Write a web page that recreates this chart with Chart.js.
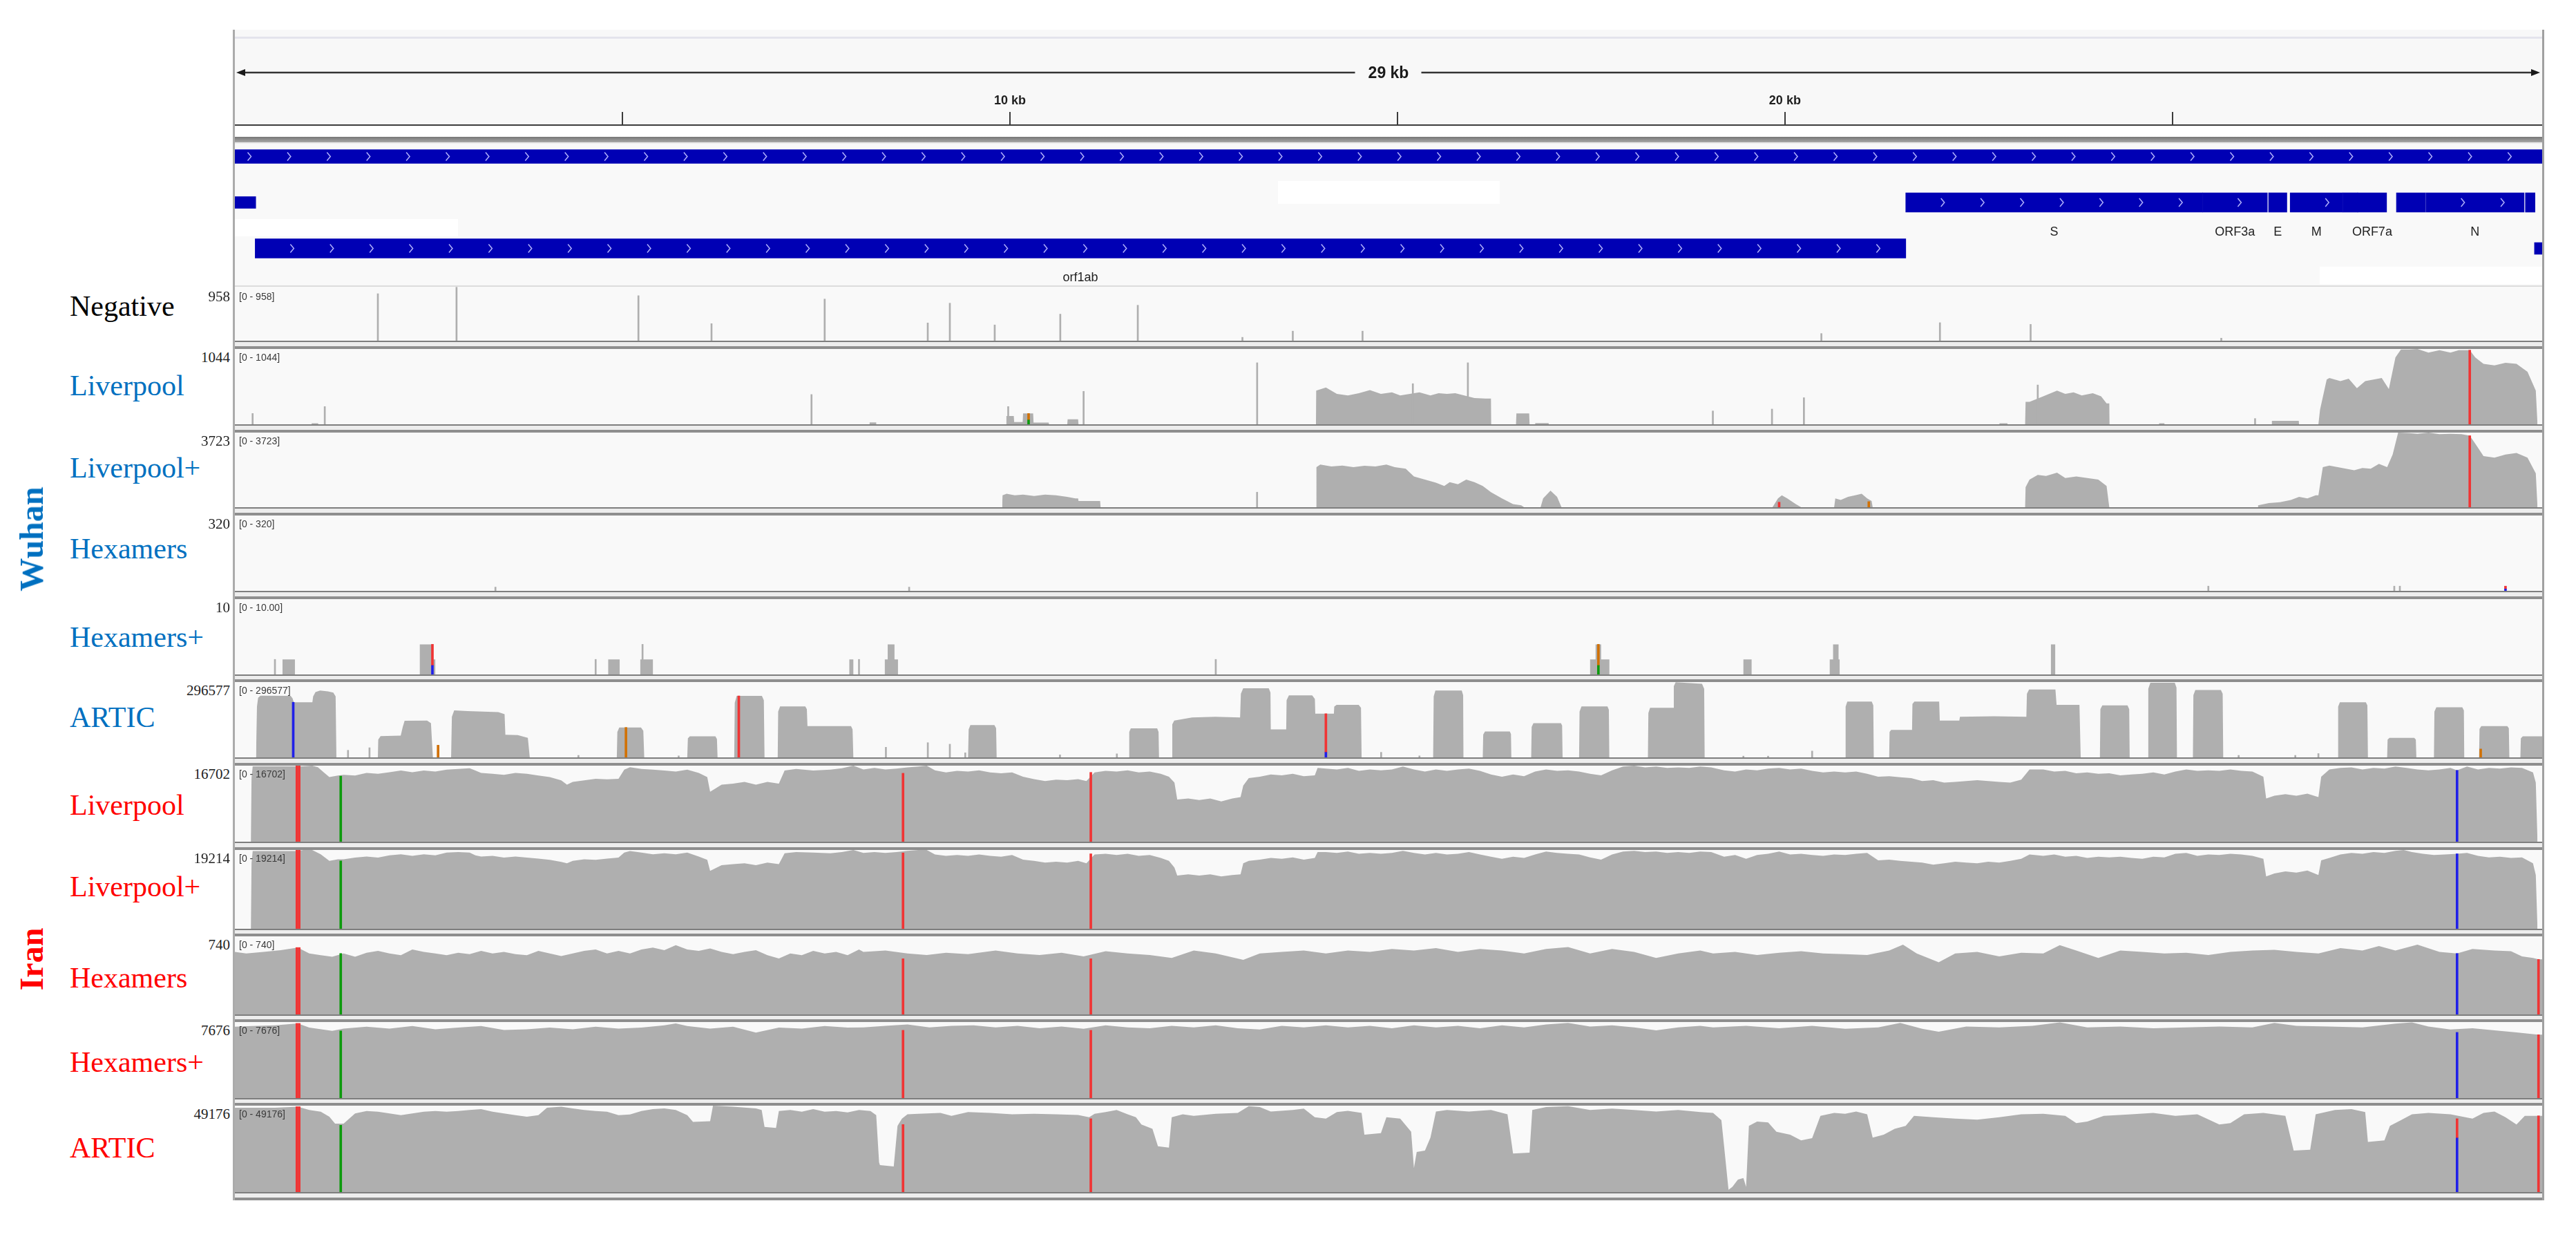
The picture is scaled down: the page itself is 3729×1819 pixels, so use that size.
<!DOCTYPE html>
<html>
<head>
<meta charset="utf-8">
<script src="https://cdn.jsdelivr.net/npm/chart.js@4.4.1/dist/chart.umd.min.js"></script>
<style>
html,body{margin:0;padding:0;background:#ffffff;}
#page{position:relative;width:3729px;height:1819px;overflow:hidden;background:#ffffff;}
#page canvas{position:absolute;}
.box{position:absolute;box-sizing:border-box;}
.txt{position:absolute;white-space:nowrap;}
</style>
</head>
<body>
<div id="page"></div>
<script>
// ---------------- DATA ----------------
const GENOME_END = 29770;            // last visible base of the view
const spanLabel = '29 kb';
const tickPositions = [5000, 10000, 15000, 20000, 25000];
const tickTexts = ['', '10 kb', '', '20 kb', ''];

// gene annotation track
const geneNames  = ['genome', "5'UTR", 'orf1ab', 'S', 'ORF3a', 'E', 'M', 'ORF6', 'ORF7a', 'ORF8', 'N', 'ORF10', "3'UTR"];
const geneLabels = ['', '', 'orf1ab', 'S', 'ORF3a', 'E', 'M', '', 'ORF7a', '', 'N', '', ''];
const geneStarts = [0, 0, 266, 21563, 25393, 26245, 26523, 27202, 27394, 27894, 28274, 29558, 29675];
const geneEnds   = [29903, 265, 21555, 25384, 26220, 26472, 27191, 27387, 27759, 28259, 29533, 29674, 29903];
const geneRows   = [1, 2, 3, 2, 2, 2, 2, 2, 2, 2, 2, 2, 3];
const geneKinds  = ['region', 'utr', 'cds', 'cds', 'cds', 'cds', 'cds', 'cds', 'cds', 'cds', 'cds', 'cds', 'utr'];

// coverage tracks
const trackNames  = ['Negative', 'Liverpool', 'Liverpool+', 'Hexamers', 'Hexamers+', 'ARTIC', 'Liverpool', 'Liverpool+', 'Hexamers', 'Hexamers+', 'ARTIC'];
const trackGroups = ['none', 'Wuhan', 'Wuhan', 'Wuhan', 'Wuhan', 'Wuhan', 'Iran', 'Iran', 'Iran', 'Iran', 'Iran'];
const trackMax    = [958, 1044, 3723, 320, 10, 296577, 16702, 19214, 740, 7676, 49176];
const trackScaleText = ['958', '1044', '3723', '320', '10', '296577', '16702', '19214', '740', '7676', '49176'];
const trackRangeText = ['[0 - 958]', '[0 - 1044]', '[0 - 3723]', '[0 - 320]', '[0 - 10.00]', '[0 - 296577]', '[0 - 16702]', '[0 - 19214]', '[0 - 740]', '[0 - 7676]', '[0 - 49176]'];
const groupNames = ['Wuhan', 'Iran'];

// Negative
const covNegative = [];
const spkNegative = [[1845,835],[2860,950],[5207,800],[6150,303],[7610,740],[8940,315],[9225,667],[9804,280],[10650,472],[11650,630],[13000,60],[13650,170],[14550,170],[20470,127],[22000,320],[23170,290],[25630,45]];
const snpNegative = [];

// Wuhan Liverpool
const covWuhanLiverpool = [[990,0],[990,15],[1075,15],[1075,0],[8190,0],[8190,26],[8275,26],[8275,0],
 [9950,0],[9955,115],[10050,115],[10055,30],[10165,30],[10170,150],[10300,150],[10305,25],[10500,25],[10505,0],
 [10740,0],[10745,70],[10880,70],[10885,0],
 [13949,0],[13952,466],[14077,510],[14219,422],[14361,400],[14503,431],[14645,475],[14787,422],[14929,444],[15036,400],[15284,444],[15426,400],[15532,431],[15639,422],[15746,431],[15994,365],[16136,356],[16207,356],[16210,0],
 [16530,0],[16535,150],[16700,150],[16705,0],[16775,0],[16778,17],[16950,17],[16953,0],
 [22765,0],[22768,15],[22870,15],[22873,0],
 [23099,0],[23105,312],[23156,312],[23333,387],[23511,466],[23617,422],[23724,444],[23830,400],[23972,431],[24079,387],[24150,290],[24185,290],[24188,0],
 [24825,0],[24828,15],[24895,15],[24898,0],[26280,0],[26283,48],[26630,48],[26633,0],
 [26883,0],[26904,200],[26990,620],[27025,642],[27167,598],[27274,633],[27380,501],[27487,598],[27593,620],[27700,642],[27792,488],[27877,927],[27948,1037],[28055,1037],[28161,1044],[28303,993],[28445,1028],[28587,993],[28694,1028],[28836,1028],[28907,927],[29013,839],[29155,817],[29297,853],[29439,839],[29581,729],[29688,466],[29710,0]];
const spkWuhanLiverpool = [[229,150],[1160,246],[7440,413],[9978,246],[10951,457],[13190,853],[15199,563],[15909,853],[19070,185],[19833,211],[20245,369],[23262,545],[26066,80]];
const snpWuhanLiverpool = [[28836,0,1028,'T'],[10241,60,150,'G'],[10241,0,60,'A']];

// Wuhan Liverpool+
const covWuhanLiverpoolPlus = [[9900,0],[9905,594],[9957,672],[10063,594],[10170,626],[10312,563],[10454,626],[10596,594],[10738,516],[10845,438],[10880,438],[10885,313],[11164,313],[11170,0],
 [13950,0],[13955,2002],[14005,2127],[14148,2034],[14290,2080],[14432,2002],[14574,2065],[14716,2034],[14858,2127],[14964,2002],[15107,1924],[15213,1533],[15355,1377],[15497,1221],[15604,1064],[15675,1252],[15781,1142],[15888,1377],[15994,1252],[16101,1064],[16207,751],[16349,438],[16492,156],[16598,94],[16634,0],
 [16847,0],[16880,438],[16975,829],[17060,516],[17117,0],
 [19840,0],[19910,438],[19960,594],[20030,438],[20140,156],[20209,0],
 [20635,0],[20650,438],[20720,360],[20813,516],[20905,594],[20990,672],[21061,438],[21118,313],[21132,0],
 [23099,0],[23105,1000],[23156,1377],[23262,1611],[23369,1564],[23511,1721],[23617,1455],[23759,1533],[23901,1455],[24043,1377],[24150,1064],[24185,0],
 [26102,0],[26105,94],[26244,203],[26386,250],[26528,360],[26634,516],[26741,438],[26848,594],[26883,594],[26940,2002],[27025,2080],[27132,2002],[27238,1924],[27345,1846],[27451,1955],[27558,1924],[27664,2159],[27770,2002],[27841,2628],[27912,3723],[28055,3700],[28161,3660],[28303,3723],[28445,3645],[28587,3660],[28729,3645],[28836,3567],[28907,3175],[29013,2550],[29155,2472],[29297,2628],[29439,2706],[29581,2472],[29688,1690],[29710,0]];
const spkWuhanLiverpoolPlus = [[13189,750]];
const snpWuhanLiverpoolPlus = [[28836,0,3567,'T'],[19925,0,250,'T'],[21082,0,280,'G']];

// Wuhan Hexamers
const covWuhanHexamers = [];
const spkWuhanHexamers = [[3362,16],[8700,16],[25463,20],[27862,20],[27934,20]];
const snpWuhanHexamers = [[29297,8,20,'T'],[29297,0,8,'C']];

// Wuhan Hexamers+
const covWuhanHexamersPlus = [[613,0],[613,2],[775,2],[775,0],[2386,0],[2386,4],[2560,4],[2560,2],[2586,2],[2586,0],
 [4817,0],[4817,2],[4965,2],[4965,0],[5231,0],[5231,2],[5394,2],[5394,0],[7928,0],[7928,2],[7980,2],[7980,0],
 [8386,0],[8386,2],[8423,2],[8423,4],[8511,4],[8511,2],[8556,2],[8556,0],
 [17486,0],[17486,2],[17557,2],[17557,4],[17628,4],[17628,2],[17735,2],[17735,0],
 [19464,0],[19464,2],[19570,2],[19570,0],[20578,0],[20578,2],[20621,2],[20621,4],[20692,4],[20692,2],[20706,2],[20706,0],
 [23432,0],[23432,4],[23489,4],[23489,0]];
const spkWuhanHexamersPlus = [[517,2],[4655,2],[5260,4],[8053,2],[12656,2]];
const snpWuhanHexamersPlus = [[2549,1.2,4,'T'],[2549,0,1.2,'C'],[17593,1.2,4,'G'],[17593,0,1.2,'A']];

// Wuhan ARTIC
const covWuhanARTIC = [[273,0],[285,200000],[300,235000],[330,243000],[720,242000],[745,232000],[760,217000],[1000,217000],[1010,240000],[1040,257000],[1100,263000],[1200,260000],[1270,255000],[1300,240000],[1310,0],
 [1845,0],[1850,70000],[1880,84000],[2140,86000],[2166,120000],[2190,144000],[2480,145000],[2530,135000],[2555,0],
 [2790,0],[2800,160000],[2830,185000],[3000,182000],[3200,180000],[3400,178000],[3480,170000],[3490,89000],[3650,88000],[3780,77000],[3805,0],
 [4928,0],[4935,100000],[4960,118000],[5240,118000],[5270,105000],[5282,0],
 [5837,0],[5845,75000],[5870,83000],[6200,83000],[6220,72000],[6228,0],
 [6443,0],[6450,215000],[6475,242000],[6800,242000],[6825,225000],[6834,0],
 [7004,0],[7010,180000],[7035,201000],[7360,201000],[7380,190000],[7388,123000],[7950,123000],[7970,110000],[7980,0],
 [9460,0],[9468,110000],[9490,127000],[9800,127000],[9822,115000],[9829,0],
 [11534,0],[11540,100000],[11560,114000],[11900,114000],[11918,100000],[11924,0],
 [12088,0],[12095,130000],[12120,145000],[12350,157000],[12650,160000],[12970,157000],[12980,250000],[13010,272000],[13340,272000],[13362,255000],[13366,110000],[13565,110000],[13570,225000],[13600,244000],[13900,244000],[13935,230000],[13940,172000],[14180,172000],[14185,200000],[14215,207000],[14500,207000],[14530,195000],[14538,0],
 [15461,0],[15468,240000],[15490,263000],[15830,263000],[15848,245000],[15852,0],
 [16101,0],[16107,90000],[16130,102000],[16450,102000],[16465,92000],[16470,0],
 [16726,0],[16732,120000],[16755,135000],[17110,135000],[17125,125000],[17131,0],
 [17344,0],[17350,180000],[17375,201000],[17710,201000],[17728,188000],[17734,0],
 [18232,0],[18238,175000],[18260,195000],[18560,195000],[18566,280000],[18590,296000],[18930,290000],[18958,270000],[18964,0],
 [20777,0],[20783,200000],[20805,220000],[21120,220000],[21140,205000],[21146,0],
 [21345,0],[21350,100000],[21370,108000],[21640,108000],[21645,210000],[21670,220000],[21990,220000],[21998,145000],[22250,145000],[22258,160000],[22700,162000],[23115,160000],[23122,250000],[23150,267000],[23490,267000],[23505,207000],[23800,207000],[23816,0],
 [24064,0],[24070,190000],[24095,205000],[24420,205000],[24442,190000],[24448,0],
 [24682,0],[24688,270000],[24715,294000],[25030,294000],[25052,275000],[25058,0],
 [25264,0],[25270,245000],[25295,265000],[25625,265000],[25648,250000],[25655,0],
 [27132,0],[27138,200000],[27160,217000],[27495,217000],[27515,205000],[27522,0],
 [27770,0],[27776,70000],[27800,77000],[28120,77000],[28140,70000],[28147,0],
 [28374,0],[28380,180000],[28405,197000],[28740,197000],[28760,185000],[28765,0],
 [28956,0],[28962,112000],[28985,123000],[29320,123000],[29340,115000],[29347,0],
 [29489,0],[29495,75000],[29520,83000],[29770,83000]];
const spkWuhanARTIC = [[1460,28000],[1737,38000],[4433,8000],[5726,6000],[8400,40000],[8941,58000],[9225,52000],[9424,18000],[10646,10000],[11380,14000],[14790,20000],[15284,6000],[19464,5000],[19783,5000],[20351,25000],[25854,8000],[26585,8000],[26883,15000]];
const snpWuhanARTIC = [[753,0,217000,'C'],[2622,0,48000,'G'],[5046,0,118000,'G'],[6502,0,242000,'T'],[14077,20000,172000,'T'],[14077,0,20000,'C'],[28977,0,33000,'G']];

// Iran Liverpool
const covIranLiverpool = [[206,0],[215,14000],[230,16560],[871,16560],[997,16702],[1071,16344],[1145,15269],[1219,14193],[1330,14552],[1403,14695],[1551,14552],[1699,15125],[1847,14910],[1995,15269],[2142,15627],[2290,15269],[2438,15627],[2586,15412],[2733,15842],[2881,15985],[3029,16129],[3103,15627],[3177,15125],[3325,14910],[3472,14695],[3620,15125],[3768,14910],[3916,14552],[4063,14193],[4211,13476],[4285,12545],[4359,13118],[4507,13476],[4655,13835],[4802,13691],[4950,13835],[5024,15842],[5098,16344],[5246,15985],[5393,15842],[5541,15627],[5689,15412],[5837,15842],[5985,15125],[6095,14193],[6132,10967],[6280,12545],[6428,12759],[6576,13118],[6723,12545],[6871,13118],[7019,12759],[7093,15627],[7241,15985],[7462,15627],[7684,15842],[7832,16129],[7980,16702],
 [8110,15870],[8252,16190],[8394,15870],[8536,16062],[8678,16318],[8820,16510],[8927,16702],[9033,15678],[9175,15230],[9318,15550],[9460,15422],[9602,15678],[9744,15230],[9886,15038],[10028,15230],[10170,14270],[10312,13758],[10454,13310],[10596,13630],[10738,13502],[10880,13758],[10987,13310],[11093,15230],[11235,15550],[11377,15422],[11519,15678],[11662,15230],[11804,15422],[11946,14910],[12052,14270],[12123,12990],[12159,9279],[12301,9471],[12443,9151],[12585,9471],[12727,8831],[12869,9471],[12976,9790],[13011,12350],[13082,13950],[13224,14270],[13366,14782],[13508,14590],[13650,14910],[13792,14398],[13934,14590],[13970,16190],[14077,16062],[14219,15870],[14361,16190],[14503,15550],[14645,15870],[14787,15678],[14929,15870],[15071,16510],[15213,15870],[15355,15422],[15497,15870],[15639,15550],[15781,15870],[15923,16062],[16065,15550],[16207,14782],[16349,14270],[16492,14782],[16634,14398],[16776,15422],[16918,15870],[17060,15550],[17202,15678],[17344,15422],[17486,14910],[17628,14590],[17770,15678],[17912,16510],[18054,16702],[18196,16318],[18338,16510],[18480,16190],[18622,16318],[18765,16190],[18907,16510],[19049,16318],
 [19215,15678],[19357,15422],[19499,15870],[19641,15678],[19783,16062],[19925,16190],[20067,15870],[20209,16062],[20351,15550],[20493,15230],[20635,15422],[20777,15230],[20919,15422],[21061,14910],[21203,14270],[21345,14398],[21487,14142],[21629,13950],[21771,13310],[21913,13502],[22055,12990],[22197,13118],[22339,13310],[22481,13502],[22623,13310],[22765,13118],[22907,12990],[23049,13630],[23156,15870],[23333,15870],[23475,15422],[23617,15550],[23759,15038],[23901,15230],[24043,14910],[24185,15038],[24327,14590],[24469,14782],[24611,14910],[24753,15230],[24895,14782],[25037,15422],[25179,15870],[25321,15550],[25463,15678],[25605,15550],[25747,15870],[25889,15550],[26031,15422],[26173,14270],[26209,9471],[26315,10111],[26457,10431],[26599,10111],[26741,10559],[26883,9790],[26919,14270],[27025,15870],[27167,16190],[27309,16318],[27451,15870],[27593,16190],[27735,16062],[27877,16510],[28019,16190],[28161,15870],[28303,15678],[28445,15870],[28587,16190],[28672,15678],[28800,16510],[28942,15870],[29084,16190],[29226,16062],[29368,16318],[29510,16190],[29652,15230],[29688,12990],[29710,0]];
const spkIranLiverpool = [];
const snpIranLiverpool = [[800,0,16702,'T'],[830,0,16702,'T'],[1366,0,14410,'A'],[8621,0,15038,'T'],[11044,0,15230,'T'],[28672,0,15678,'C']];

// Iran Liverpool+
const covIranLiverpoolPlus = [[206,0],[215,16000],[230,18972],[800,18972],[886,19214],[997,19214],[1108,18165],[1219,16550],[1330,16954],[1403,16954],[1551,17357],[1699,17600],[1847,17357],[1995,17923],[2142,18165],[2290,17761],[2438,18165],[2586,17923],[2733,18568],[2881,18729],[3029,18568],[3103,17923],[3177,17600],[3325,17761],[3472,17357],[3620,17600],[3768,17357],[3916,17115],[4063,16792],[4211,16308],[4285,15985],[4359,16550],[4507,16954],[4655,16792],[4802,17115],[4950,17357],[5024,18568],[5098,18972],[5246,18568],[5393,18165],[5541,18407],[5689,18165],[5837,18568],[5985,17600],[6095,16792],[6132,14128],[6280,15500],[6428,15742],[6576,15985],[6723,15500],[6871,16146],[7019,15742],[7093,18407],[7241,18729],[7462,18568],[7684,18407],[7832,18729],[7980,19214],
 [8110,18497],[8252,18712],[8394,18497],[8536,18712],[8678,18999],[8820,19214],[8927,19214],[9033,18139],[9175,17780],[9318,17995],[9460,17780],[9602,18139],[9744,17780],[9886,17565],[10028,17995],[10170,16848],[10312,16561],[10454,16131],[10596,16346],[10738,16131],[10880,16561],[10987,15988],[11093,18139],[11235,18282],[11377,17995],[11519,18282],[11662,17780],[11804,17995],[11946,17278],[12052,16561],[12123,14912],[12159,12977],[12301,13263],[12443,12977],[12585,13263],[12727,12762],[12869,13120],[12976,13263],[13011,15988],[13082,16561],[13224,16848],[13366,17278],[13508,17063],[13650,17422],[13792,16848],[13934,17278],[13970,18712],[14077,18712],[14219,18497],[14361,18855],[14503,18282],[14645,18497],[14787,18282],[14929,18497],[15071,18999],[15213,18497],[15355,18139],[15497,18497],[15639,18139],[15781,18282],[15923,18712],[16065,18139],[16207,17565],[16349,17063],[16492,17565],[16634,17278],[16776,18139],[16918,18855],[17060,18497],[17202,18282],[17344,18139],[17486,17422],[17628,16848],[17770,18139],[17912,18855],[18054,18999],[18196,18712],[18338,18855],[18480,18497],[18622,18712],[18765,18497],[18907,18855],[19049,18712],
 [19215,17565],[19357,17995],[19499,17063],[19641,17995],[19783,18282],[19925,18855],[20067,18139],[20209,18282],[20351,17995],[20493,17780],[20635,18139],[20777,17995],[20919,18282],[21061,18497],[21203,16705],[21345,16848],[21487,16561],[21629,16346],[21771,16131],[21913,15629],[22055,15988],[22197,16346],[22339,16131],[22481,15988],[22623,16346],[22765,16131],[22907,16561],[23049,17063],[23156,18139],[23333,17780],[23475,18139],[23617,17565],[23759,17780],[23901,17278],[24043,17565],[24185,17422],[24327,17565],[24469,17278],[24611,17063],[24753,17565],[24895,17422],[25037,18282],[25179,18497],[25321,17780],[25463,18139],[25605,17995],[25747,18282],[25889,18139],[26031,17780],[26173,17063],[26209,12762],[26315,13479],[26457,13980],[26599,13693],[26741,14195],[26883,13120],[26919,16705],[27025,17278],[27167,18139],[27309,18497],[27451,18282],[27593,18712],[27735,18497],[27877,18999],[27983,19214],[28090,18712],[28232,18282],[28374,17995],[28516,18139],[28672,18282],[28800,18497],[28942,17780],[29084,17422],[29226,17565],[29368,17278],[29510,17422],[29652,15988],[29688,13120],[29710,0]];
const spkIranLiverpoolPlus = [];
const snpIranLiverpoolPlus = [[800,0,19214,'T'],[830,0,19214,'T'],[1366,0,16550,'A'],[8621,0,18497,'T'],[11044,0,18282,'T'],[28672,0,18282,'C']];

// Iran Hexamers
const covIranHexamers = [[0,593],[147,578],[369,593],[591,609],[812,634],[960,578],[1108,562],[1256,546],[1403,578],[1551,546],[1699,584],[1847,603],[1995,578],[2142,562],[2290,615],[2438,593],[2586,578],[2733,562],[2881,584],[3029,571],[3177,603],[3325,578],[3472,593],[3620,571],[3768,562],[3916,603],[4063,578],[4211,553],[4359,578],[4507,603],[4655,615],[4802,578],[4950,603],[5098,578],[5246,615],[5393,634],[5541,609],[5689,656],[5837,615],[5985,603],[6132,625],[6280,593],[6428,571],[6576,593],[6723,609],[6871,562],[7019,531],[7167,578],[7315,562],[7462,603],[7610,578],[7758,593],[7906,562],[8053,615],
 [8110,592],[8394,606],[8678,578],[8927,564],[9175,584],[9460,572],[9815,606],[10099,578],[10383,564],[10667,584],[10951,550],[11235,600],[11519,578],[11804,564],[12088,536],[12372,606],[12656,578],[13011,517],[13224,578],[13508,592],[13792,606],[14077,578],[14361,606],[14645,592],[14929,620],[15213,606],[15497,628],[15781,592],[16065,620],[16349,606],[16634,578],[16918,620],[17202,639],[17486,578],[17770,620],[18054,592],[18338,536],[18622,578],[18907,606],
 [19073,578],[19357,592],[19641,564],[19925,584],[20209,600],[20493,578],[20777,572],[21061,564],[21345,606],[21523,662],[21700,578],[21984,494],[22197,578],[22481,592],[22765,550],[23049,584],[23333,578],[23546,656],[23759,606],[24043,536],[24327,606],[24611,592],[24895,578],[25179,584],[25463,564],[25747,592],[26031,606],[26315,612],[26599,592],[26883,578],[27167,628],[27451,606],[27664,648],[27877,606],[28161,662],[28445,592],[28672,578],[28871,620],[29155,606],[29368,600],[29510,550],[29652,536],[29723,522],[29770,522]];
const spkIranHexamers = [];
const snpIranHexamers = [[800,0,634,'T'],[830,0,634,'T'],[1366,0,578,'A'],[8621,0,528,'T'],[11044,0,528,'T'],[28672,0,578,'C'],[29723,0,522,'T']];

// Iran Hexamers+
const covIranHexamersPlus = [[0,7213],[221,7279],[517,7345],[812,7544],[960,7114],[1256,6783],[1403,7014],[1699,7213],[1995,7014],[2290,7279],[2586,6948],[2881,7114],[3177,7279],[3472,6882],[3768,6948],[4063,7114],[4359,6948],[4655,7213],[4950,7014],[5246,7114],[5541,7345],[5689,7544],[5837,7279],[6132,7014],[6428,7213],[6723,6617],[7019,7114],[7315,7014],[7610,7279],[7906,7114],
 [8110,7140],[8394,7289],[8678,7438],[8962,7140],[9246,7289],[9531,7349],[9815,7140],[10099,7289],[10383,7051],[10667,7230],[10951,6992],[11235,7349],[11519,7140],[11804,7051],[12088,7289],[12372,7140],[12656,7349],[12940,7051],[13224,6932],[13508,7289],[13792,7140],[14077,7349],[14361,7140],[14645,7289],[14929,7051],[15213,7349],[15497,7140],[15781,7289],[16065,7051],[16349,7349],[16634,7140],[16918,7438],[17202,7587],[17486,7230],[17770,7349],[18054,7140],[18338,6843],[18622,7140],[18907,7289],
 [19073,7140],[19499,7289],[19925,7051],[20351,7289],[20777,6992],[21203,7140],[21487,7587],[21771,6992],[21984,6694],[22339,7230],[22765,7140],[23191,7289],[23546,7646],[23901,7140],[24327,7230],[24753,7051],[25179,7140],[25605,7230],[26031,7140],[26315,7587],[26599,7289],[27025,7230],[27451,7140],[27877,7527],[28090,7646],[28303,7230],[28587,6932],[28871,7051],[29155,6843],[29439,6635],[29652,6456],[29723,6397],[29770,6397]];
const spkIranHexamersPlus = [];
const snpIranHexamersPlus = [[800,0,7544,'T'],[830,0,7544,'T'],[1366,0,6783,'A'],[8621,0,6843,'T'],[11044,0,6843,'T'],[28672,0,6635,'C'],[29723,0,6397,'T']];

// Iran ARTIC
const covIranARTIC = [[0,48024],[517,48024],[812,48600],[960,46679],[1108,45719],[1219,42838],[1293,38996],[1403,38996],[1551,44759],[1699,46103],[1847,45719],[1995,44759],[2142,43798],[2290,44759],[2438,45719],[2586,46103],[2733,45719],[2881,46103],[3029,46679],[3177,47256],[3325,45719],[3472,44759],[3620,43798],[3768,42838],[3916,43798],[4027,48024],[4211,48600],[4359,47640],[4507,46679],[4655,46103],[4802,45719],[4950,43798],[5098,44183],[5246,46103],[5393,47256],[5541,47640],[5689,46679],[5837,43798],[5911,39956],[6132,40341],[6169,49176],[6428,48600],[6723,47640],[6797,46679],[6834,37075],[6982,36498],[7019,46103],[7167,46679],[7315,45719],[7462,47256],[7610,45719],[7758,46103],[7906,45335],[8053,46679],[8201,46103],[8275,43798],[8312,16904],[8323,15347],[8501,14522],[8550,37625],[8607,41751],[8678,44226],[8820,44556],[9104,45051],[9246,43401],[9460,45546],[9744,45051],[10028,44226],[10312,44556],[10596,44226],[10880,43896],[11022,42576],[11093,44556],[11235,45546],[11377,46701],[11519,44226],[11626,42576],[11697,38450],[11839,35975],[11910,26073],[12052,25248],[12088,42576],[12230,44226],[12372,43401],[12656,44556],[12940,45051],[13082,48852],[13224,48356],[13366,45876],[13650,46701],[13792,47526],[13934,42576],[14077,41751],[14219,45546],[14361,46206],[14538,45051],[14574,32674],[14787,33500],[14858,42576],[15036,41751],[15177,34325],[15213,13697],[15249,22773],[15355,23598],[15426,31024],[15497,45876],[15639,46701],[15923,45876],[16207,46701],[16420,44226],[16492,21948],[16705,22443],[16740,46701],[16918,48356],[17202,48852],[17486,46701],[17770,47526],[18054,46701],[18338,45876],[18622,46701],[18907,45546],[19073,45051],[19180,40925],[19215,26073],[19272,1320],[19322,2970],[19393,7096],[19464,7921],[19499,2970],[19535,37625],[19641,40100],[19783,39605],[19890,34325],[20067,32674],[20209,29374],[20351,30694],[20458,43401],[20635,45051],[20777,44556],[20919,45876],[21061,44226],[21132,31024],[21274,32674],[21416,35975],[21558,37625],[21665,43401],[21913,42576],[22197,41751],[22481,41256],[22765,42576],[23049,44226],[23333,44556],[23617,43401],[23759,39275],[23901,40100],[24114,43401],[24469,44226],[24753,45051],[25037,43401],[25321,44226],[25605,38450],[25747,39275],[25925,44226],[26173,45051],[26457,43401],[26564,23598],[26777,24093],[26848,44226],[27096,46701],[27309,47196],[27487,45546],[27522,28549],[27735,29374],[27806,37625],[27948,40925],[28090,44226],[28303,45051],[28587,44226],[28871,41751],[29013,45051],[29155,45876],[29297,42576],[29439,38450],[29546,43401],[29723,43401],[29770,43401]];
const spkIranARTIC = [];
const snpIranARTIC = [[800,0,48600,'T'],[830,0,48600,'T'],[1366,0,38035,'A'],[8621,0,38450,'T'],[11044,0,41751,'T'],[28672,0,31024,'C'],[28672,31024,41751,'T'],[29723,0,43401,'T']];

const covTracks = [covNegative, covWuhanLiverpool, covWuhanLiverpoolPlus, covWuhanHexamers, covWuhanHexamersPlus, covWuhanARTIC, covIranLiverpool, covIranLiverpoolPlus, covIranHexamers, covIranHexamersPlus, covIranARTIC];
const spkTracks = [spkNegative, spkWuhanLiverpool, spkWuhanLiverpoolPlus, spkWuhanHexamers, spkWuhanHexamersPlus, spkWuhanARTIC, spkIranLiverpool, spkIranLiverpoolPlus, spkIranHexamers, spkIranHexamersPlus, spkIranARTIC];
const snpTracks = [snpNegative, snpWuhanLiverpool, snpWuhanLiverpoolPlus, snpWuhanHexamers, snpWuhanHexamersPlus, snpWuhanARTIC, snpIranLiverpool, snpIranLiverpoolPlus, snpIranHexamers, snpIranHexamersPlus, snpIranARTIC];

// ---------------- LAYOUT & STYLE ----------------
const PLOT_L = 340, PLOT_W = 3340;
const trackSep  = [413, 501, 622, 742, 863, 983, 1104, 1226, 1351, 1475, 1596];
const trackBase = [493, 614, 734, 855, 976, 1096, 1218, 1344, 1468, 1589, 1725];
const nameBaseline = [457, 572, 691, 808, 936, 1052, 1179, 1297, 1429, 1551, 1675];
const groupCenterY = {Wuhan: 780, Iran: 1388};
const groupColor = {none: '#000000', Wuhan: '#0070C0', Iran: '#FF0000'};
const COV_GREY = '#AFAFAF';
const BASE_COLORS = {A: '#0C9A0C', C: '#2020E8', G: '#D17105', T: '#F03434'};
const GENE_BLUE = '#0000B4';
const SERIF = '"Liberation Serif","Times New Roman",serif';
const SANS = '"Liberation Sans",Arial,sans-serif';

const page = document.getElementById('page');
function box(css) { const d = document.createElement('div'); d.className = 'box'; Object.assign(d.style, css); page.appendChild(d); return d; }
function text(t, css) { const d = document.createElement('div'); d.className = 'txt'; d.textContent = t; Object.assign(d.style, css); page.appendChild(d); return d; }
function canvasAt(left, top, w, h) {
  const c = document.createElement('canvas');
  c.width = w; c.height = h;
  Object.assign(c.style, {left: left + 'px', top: top + 'px', width: w + 'px', height: h + 'px'});
  page.appendChild(c); return c;
}
const px = v => v + 'px';

// panel frame
box({left: px(337), top: px(43), width: px(3346), height: px(1694), background: '#EDEDED', borderLeft: '3px solid #ABABAB', borderRight: '3px solid #A0A0A0'});
// ruler panel
box({left: px(PLOT_L), top: px(43), width: px(PLOT_W), height: px(138), background: '#F8F8F8'});
box({left: px(PLOT_L), top: px(53), width: px(PLOT_W), height: px(3), background: '#E4E4EC'});
box({left: px(PLOT_L), top: px(181), width: px(PLOT_W), height: px(17), background: '#FFFFFF'});
box({left: px(PLOT_L), top: px(198), width: px(PLOT_W), height: px(8), background: 'linear-gradient(#767676,#A8A8A8)'});
// gene panel
box({left: px(PLOT_L), top: px(208), width: px(PLOT_W), height: px(205), background: '#F9F9F9'});
// erased label patches in the gene panel
box({left: px(1850), top: px(262), width: px(321), height: px(33), background: '#FFFFFF'});
box({left: px(PLOT_L), top: px(317), width: px(323), height: px(25), background: '#FFFFFF'});
box({left: px(3358), top: px(386), width: px(322), height: px(25), background: '#FFFFFF'});
// track frames
trackSep.forEach((s, i) => {
  box({left: px(PLOT_L), top: px(s), width: px(PLOT_W), height: px(trackBase[i] + 2 - s), background: '#F9F9F9',
       borderTop: i === 0 ? '2px solid #DCDCDC' : '4px solid #8E8E8E', borderBottom: '2px solid #7E7E7E'});
});
box({left: px(PLOT_L), top: px(1733), width: px(PLOT_W), height: px(4), background: '#8E8E8E'});

Chart.defaults.font.family = SANS;

// ---------------- RULER ----------------
const RULER_TOP = 43, RULER_AXIS_BOTTOM = 181, RULER_BOTTOM = 198, ARROW_Y = 105;
const spanArrow = {
  id: 'spanArrow',
  afterDraw(chart) {
    const ctx = chart.ctx, xs = chart.scales.x;
    const x0 = xs.getPixelForValue(0) + 2, x1 = xs.getPixelForValue(GENOME_END) - 3;
    const y = ARROW_Y - RULER_TOP, mid = (x0 + x1) / 2, gap = 48;
    ctx.save();
    ctx.strokeStyle = '#333'; ctx.fillStyle = '#1a1a1a'; ctx.lineWidth = 2.5;
    ctx.beginPath(); ctx.moveTo(x0 + 6, y); ctx.lineTo(mid - gap, y); ctx.moveTo(mid + gap, y); ctx.lineTo(x1 - 6, y); ctx.stroke();
    ctx.beginPath(); ctx.moveTo(x0, y); ctx.lineTo(x0 + 13, y - 5); ctx.lineTo(x0 + 13, y + 5); ctx.closePath(); ctx.fill();
    ctx.beginPath(); ctx.moveTo(x1, y); ctx.lineTo(x1 - 13, y - 5); ctx.lineTo(x1 - 13, y + 5); ctx.closePath(); ctx.fill();
    ctx.restore();
  }
};
new Chart(canvasAt(PLOT_L, RULER_TOP, PLOT_W, RULER_BOTTOM - RULER_TOP), {
  type: 'scatter',
  data: {datasets: []},
  options: {
    responsive: false, animation: false, events: [], devicePixelRatio: 1,
    layout: {padding: 0},
    plugins: {legend: {display: false}, tooltip: {enabled: false}},
    scales: {
      x: {type: 'linear', position: 'top', min: 0, max: GENOME_END, offset: false, bounds: 'data',
          afterBuildTicks: s => { s.ticks = tickPositions.map(v => ({value: v})); },
          afterFit: s => { s.height = RULER_AXIS_BOTTOM - RULER_TOP; },
          border: {display: true, color: '#3c3c3c', width: 2},
          grid: {drawOnChartArea: false, drawTicks: true, tickLength: 19, color: '#3c3c3c', lineWidth: 2},
          ticks: {autoSkip: false, maxRotation: 0, minRotation: 0, padding: 5, color: '#1e1e1e',
                  font: {family: SANS, size: 18, weight: 'bold'},
                  callback: (v, i) => tickTexts[i] || ''}},
      y: {display: false, min: 0, max: 1}
    }
  },
  plugins: [spanArrow]
});
text(spanLabel, {left: px(2010), top: px(105), transform: 'translate(-50%,-50%)', font: 'bold 23px ' + SANS, lineHeight: '23px', color: '#1a1a1a'});

// ---------------- GENES ----------------
const GENE_TOP = 200, GENE_H = 211, CHEVRON_STEP = 57.4;
const kindThickness = {region: 19, cds: 27, utr: 16};
const kindChevronStart = {region: 21, cds: 53, utr: 53};
const chevrons = {
  id: 'chevrons',
  afterDatasetsDraw(chart) {
    const ctx = chart.ctx;
    ctx.save();
    ctx.strokeStyle = 'rgba(185,185,255,0.95)'; ctx.lineWidth = 1.5;
    chart.data.datasets.forEach((ds, di) => {
      chart.getDatasetMeta(di).data.forEach(el => {
        const p = el.getProps(['x', 'y', 'base'], true);
        const left = Math.min(p.x, p.base), right = Math.max(p.x, p.base);
        for (let cx = left + ds.chevronStart; cx < right - 6; cx += CHEVRON_STEP) {
          ctx.beginPath(); ctx.moveTo(cx - 2.5, p.y - 6); ctx.lineTo(cx + 2.5, p.y); ctx.lineTo(cx - 2.5, p.y + 6); ctx.stroke();
        }
      });
    });
    ctx.restore();
  }
};
const geneChart = new Chart(canvasAt(PLOT_L, GENE_TOP, PLOT_W, GENE_H), {
  type: 'bar',
  data: {datasets: ['region', 'utr', 'cds'].map(k => ({
    data: geneNames.map((n, i) => geneKinds[i] === k ? {y: geneRows[i], x: [geneStarts[i], geneEnds[i]]} : null).filter(Boolean),
    backgroundColor: GENE_BLUE, borderWidth: 0, inflateAmount: 0.8, barThickness: kindThickness[k], grouped: false, chevronStart: kindChevronStart[k]
  }))},
  options: {
    indexAxis: 'y', responsive: false, animation: false, events: [], devicePixelRatio: 1,
    layout: {padding: 0},
    plugins: {legend: {display: false}, tooltip: {enabled: false}},
    scales: {
      x: {type: 'linear', min: 0, max: GENOME_END, display: false, offset: false},
      y: {type: 'linear', min: 0.6015, max: 3.7744, reverse: true, display: false, offset: false}
    }
  },
  plugins: [chevrons]
});
geneNames.forEach((n, i) => {
  if (!geneLabels[i]) return;
  const xm = PLOT_L + geneChart.scales.x.getPixelForValue((geneStarts[i] + geneEnds[i]) / 2);
  const yc = GENE_TOP + geneChart.scales.y.getPixelForValue(geneRows[i]) + kindThickness[geneKinds[i]] / 2 + 28;
  text(geneLabels[i], {left: px(xm), top: px(yc), transform: 'translate(-50%,-50%)', font: '18px ' + SANS, lineHeight: '18px', color: '#222'});
});

// ---------------- COVERAGE TRACKS ----------------
trackNames.forEach((name, i) => {
  const top = trackSep[i] + (i === 0 ? 2 : 4);
  const h = trackBase[i] - top;
  const datasets = [];
  if (covTracks[i].length) datasets.push({type: 'line', data: covTracks[i].map(p => ({x: p[0], y: p[1]})),
      borderWidth: 0, backgroundColor: COV_GREY, fill: 'origin', pointRadius: 0, tension: 0, order: 3});
  if (spkTracks[i].length) datasets.push({type: 'bar', data: spkTracks[i].map(p => ({x: p[0], y: [0, p[1]]})),
      backgroundColor: COV_GREY, barThickness: 2, grouped: false, order: 2});
  if (snpTracks[i].length) datasets.push({type: 'bar', data: snpTracks[i].map(p => ({x: p[0], y: [p[1], p[2]]})),
      backgroundColor: snpTracks[i].map(p => BASE_COLORS[p[3]]), barThickness: 3, grouped: false, order: 1});
  new Chart(canvasAt(PLOT_L, top, PLOT_W, h), {
    type: 'line',
    data: {datasets},
    options: {
      responsive: false, animation: false, events: [], devicePixelRatio: 1,
      layout: {padding: 0},
      plugins: {legend: {display: false}, tooltip: {enabled: false}},
      scales: {
        x: {type: 'linear', min: 0, max: GENOME_END, display: false, offset: false, grid: {offset: false}},
        y: {type: 'linear', min: 0, max: trackMax[i], display: false}
      }
    }
  });
  // labels
  const col = groupColor[trackGroups[i]];
  text(name, {left: px(101), top: px(nameBaseline[i] - 35), font: '42px ' + SERIF, lineHeight: '42px', color: col});
  text(trackScaleText[i], {left: '0px', width: px(333), textAlign: 'right', top: px(trackSep[i] + 24 - 18), font: '21px ' + SERIF, lineHeight: '21px', color: '#222'});
  text(trackRangeText[i], {left: px(346), top: px(trackSep[i] + 21 - 12), font: '14px ' + SANS, lineHeight: '14px', color: '#3a3a3a'});
});

groupNames.forEach(g => {
  text(g, {left: px(46), top: px(groupCenterY[g]), transform: 'translate(-50%,-50%) rotate(-90deg)', font: 'bold 48px ' + SERIF, lineHeight: '48px', color: groupColor[g]});
});
</script>
</body>
</html>
